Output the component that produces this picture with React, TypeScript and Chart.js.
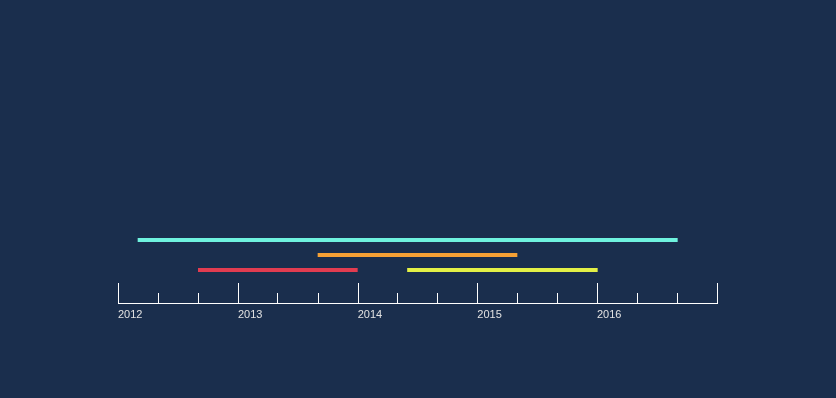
import React, { useEffect, useRef } from "react";
import { Chart, registerables } from "chart.js";

Chart.register(...registerables);

// Timeline data (start/end dates, row = lane from top)
const taskNames = ["Project A", "Project B", "Project C", "Project D"];
const taskStarts = ["2012-03-01", "2013-09-01", "2012-09-01", "2014-06-01"];
const taskEnds = ["2016-09-03", "2015-05-03", "2014-01-01", "2016-01-03"];
const taskRows = [1, 2, 3, 3];
const taskColors = ["#6ff3df", "#f6a135", "#e23c50", "#e3f046"];

// Axis ticks: major at each year start, minor every four months
const tickDates = [
  "2012-01-01", "2012-05-01", "2012-09-01",
  "2013-01-01", "2013-05-01", "2013-09-01",
  "2014-01-01", "2014-05-01", "2014-09-01",
  "2015-01-01", "2015-05-01", "2015-09-01",
  "2016-01-01", "2016-05-01", "2016-09-01",
  "2017-01-01",
];
const yearLabels = ["2012", "2013", "2014", "2015", "2016"];
const axisStart = "2012-01-01";
const axisEnd = "2017-01-01";

const BG = "#1a2e4d";
const DAY = 86400000;

function toDays(s: string): number {
  const [y, m, d] = s.split("-").map(Number);
  const [y0, m0, d0] = axisStart.split("-").map(Number);
  return Math.round((Date.UTC(y, m - 1, d) - Date.UTC(y0, m0 - 1, d0)) / DAY);
}

const majorDays = yearLabels.map((y) => toDays(y + "-01-01"));

const tickMarksPlugin = {
  id: "tickMarks",
  afterDraw(chart: any) {
    const scale = chart.scales.x;
    const ctx = chart.ctx;
    const base = scale.top;
    ctx.save();
    ctx.strokeStyle = "#ffffff";
    ctx.lineWidth = 1;
    scale.ticks.forEach((t: any) => {
      const x = Math.round(scale.getPixelForValue(t.value)) + 0.5;
      const major = tickDates.some((d) => d.endsWith("-01-01") && toDays(d) === t.value);
      const len = major ? 20 : 10;
      ctx.beginPath();
      ctx.moveTo(x, base + 0.5);
      ctx.lineTo(x, base - len);
      ctx.stroke();
    });
    ctx.restore();
  },
};

export default function App() {
  const ref = useRef<HTMLCanvasElement>(null);
  useEffect(() => {
    document.body.style.margin = "0";
    document.body.style.background = BG;
    const datasets = taskNames.map((name, i) => ({
      label: name,
      data: [
        { x: toDays(taskStarts[i]), y: taskRows[i] },
        { x: toDays(taskEnds[i]), y: taskRows[i] },
      ],
      borderColor: taskColors[i],
      backgroundColor: taskColors[i],
      borderWidth: 4,
      borderCapStyle: "butt" as const,
      pointRadius: 0,
      pointHoverRadius: 0,
      tension: 0,
      fill: false,
    }));
    const chart = new Chart(ref.current!, {
      type: "line",
      data: { datasets },
      options: {
        animation: false,
        responsive: false,
        maintainAspectRatio: false,
        layout: { padding: { left: 118, right: 119, top: 225, bottom: 0 } },
        plugins: {
          legend: { display: false },
          tooltip: { enabled: false },
        },
        scales: {
          x: {
            type: "linear",
            position: "bottom",
            min: toDays(axisStart),
            max: toDays(axisEnd),
            afterFit: (s: any) => {
              s.height = 95;
            },
            afterBuildTicks: (s: any) => {
              s.ticks = tickDates.map((d) => ({ value: toDays(d) }));
            },
            grid: { display: true, drawOnChartArea: false, drawTicks: false },
            border: { display: true, color: "#ffffff", width: 1 },
            ticks: {
              autoSkip: false,
              maxRotation: 0,
              align: "start",
              padding: 5,
              color: "#e2e2e2",
              font: { family: "'Liberation Sans', Arial, sans-serif", size: 11 },
              callback: (v: any) => {
                const idx = majorDays.indexOf(Number(v));
                return idx >= 0 ? yearLabels[idx] : "";
              },
            },
          },
          y: {
            type: "linear",
            display: false,
            reverse: true,
            min: 0,
            max: 5.2,
          },
        },
      },
      plugins: [tickMarksPlugin],
    });
    return () => chart.destroy();
  }, []);
  return (
    <div style={{ width: 836, height: 398, background: BG }}>
      <canvas ref={ref} width={836} height={398} style={{ display: "block" }} />
    </div>
  );
}
